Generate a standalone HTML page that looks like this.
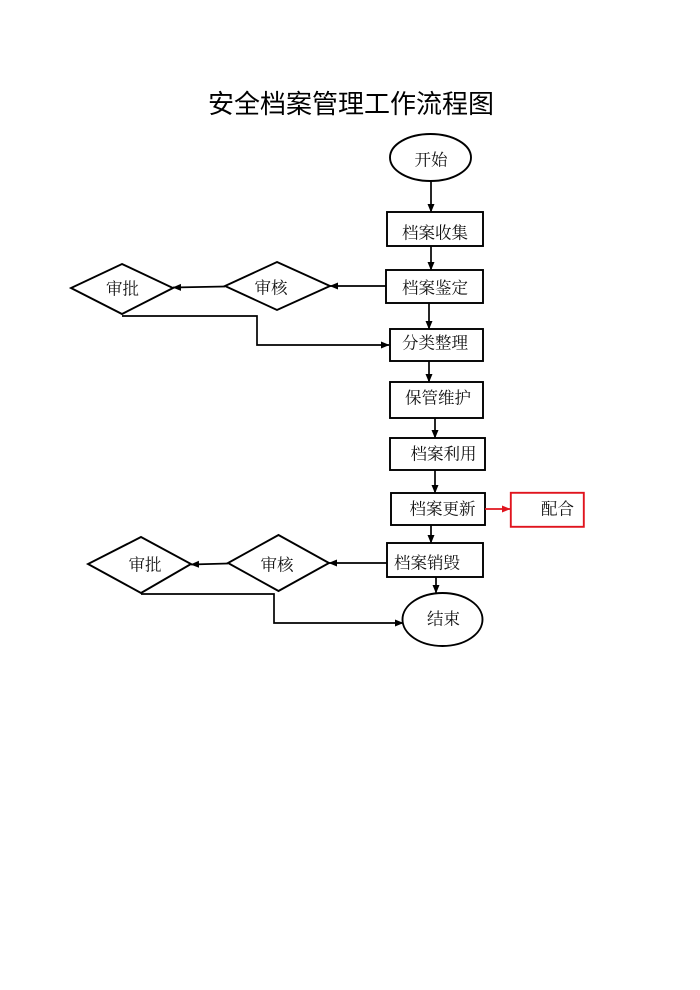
<!DOCTYPE html>
<html>
<head>
<meta charset="utf-8">
<style>
  html, body { margin:0; padding:0; background:#fff; }
  body { width:700px; height:990px; overflow:hidden; }
  svg { display:block; }
  .t { font-family: "Liberation Serif", "Noto Serif CJK SC", serif; font-size:16.5px; fill:#111; }
  .title { font-family: "Liberation Sans", "Noto Sans CJK SC", sans-serif; font-size:26px; fill:#000; }
</style>
</head>
<body>
<svg width="700" height="990" viewBox="0 0 700 990" xmlns="http://www.w3.org/2000/svg">
  <defs>
    <marker id="a" markerWidth="9" markerHeight="9" refX="8" refY="4.5" orient="auto" markerUnits="userSpaceOnUse">
      <path d="M0,1 L8.5,4.5 L0,8 Z" fill="#000"/>
    </marker>
    <marker id="r" markerWidth="9" markerHeight="9" refX="8" refY="4.5" orient="auto" markerUnits="userSpaceOnUse">
      <path d="M0,1 L8.5,4.5 L0,8 Z" fill="#e0141e"/>
    </marker>
  </defs>

  <text class="title" x="351" y="104" text-anchor="middle" dominant-baseline="central">安全档案管理工作流程图</text>

  <g fill="none" stroke="#000" stroke-width="1.9">
    <ellipse cx="430.5" cy="157.5" rx="40.5" ry="23.5"/>
    <rect x="387" y="212" width="96" height="34"/>
    <rect x="386" y="270" width="97" height="33"/>
    <rect x="390" y="329" width="93" height="32"/>
    <rect x="390" y="382" width="93" height="36"/>
    <rect x="390" y="438" width="95" height="32"/>
    <rect x="391" y="493" width="94" height="32"/>
    <rect x="387" y="543" width="96" height="34"/>
    <ellipse cx="442.5" cy="619.5" rx="40" ry="26.5"/>
    <polygon points="277,262 330,286 277,310 225,286"/>
    <polygon points="122,264 173,288 122,314 71,288"/>
    <polygon points="278.5,535 329,563 278.5,591 228,563"/>
    <polygon points="141,537 191,564 141,593 88,564"/>
  </g>
  <rect x="510.8" y="492.8" width="73" height="34" fill="none" stroke="#e0141e" stroke-width="1.9"/>

  <g fill="none" stroke="#000" stroke-width="1.7">
    <line x1="431" y1="181" x2="431" y2="212" marker-end="url(#a)"/>
    <line x1="431" y1="246" x2="431" y2="270" marker-end="url(#a)"/>
    <line x1="386" y1="286" x2="330" y2="286" marker-end="url(#a)"/>
    <line x1="225" y1="286.5" x2="173" y2="287.5" marker-end="url(#a)"/>
    <polyline points="122,316 257,316 257,345 389,345" marker-end="url(#a)"/>
    <line x1="429" y1="303" x2="429" y2="329" marker-end="url(#a)"/>
    <line x1="429" y1="361" x2="429" y2="382" marker-end="url(#a)"/>
    <line x1="435" y1="418" x2="435" y2="438" marker-end="url(#a)"/>
    <line x1="435" y1="470" x2="435" y2="493" marker-end="url(#a)"/>
    <line x1="431" y1="525" x2="431" y2="543" marker-end="url(#a)"/>
    <line x1="436" y1="577" x2="436" y2="593" marker-end="url(#a)"/>
    <line x1="387" y1="563" x2="329" y2="563" marker-end="url(#a)"/>
    <line x1="228" y1="563.5" x2="191" y2="564.5" marker-end="url(#a)"/>
    <polyline points="141,594 274,594 274,623 403,623" marker-end="url(#a)"/>
  </g>
  <line x1="485" y1="509" x2="510" y2="509" stroke="#e0141e" stroke-width="1.7" marker-end="url(#r)"/>

  <g class="t" text-anchor="middle" dominant-baseline="central">
    <text x="431" y="160">开始</text>
    <text x="435" y="233">档案收集</text>
    <text x="435" y="288">档案鉴定</text>
    <text x="435" y="343">分类整理</text>
    <text x="438" y="398">保管维护</text>
    <text x="443.5" y="454">档案利用</text>
    <text x="442.5" y="509">档案更新</text>
    <text x="557.5" y="509">配合</text>
    <text x="427" y="563">档案销毁</text>
    <text x="443.5" y="619">结束</text>
    <text x="271" y="288">审核</text>
    <text x="122.5" y="289">审批</text>
    <text x="277" y="565">审核</text>
    <text x="145" y="565">审批</text>
  </g>
</svg>
</body>
</html>
